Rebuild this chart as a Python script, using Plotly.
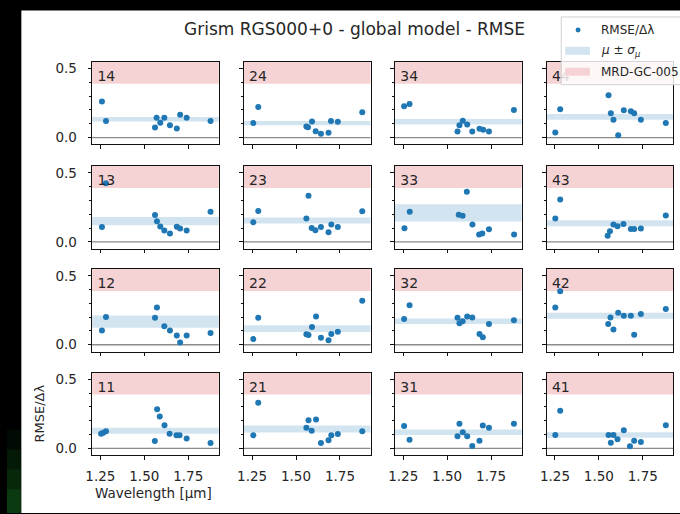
import plotly.graph_objects as go

W, H = 680, 514

# ---------------- data ----------------
panel_ids = ["14", "24", "34", "44",
             "13", "23", "33", "43",
             "12", "22", "32", "42",
             "11", "21", "31", "41"]

wl_14 = [1.259, 1.282, 1.561, 1.570, 1.591, 1.614, 1.646, 1.685, 1.704, 1.741, 1.877]
rmse_14 = [0.261, 0.120, 0.073, 0.144, 0.107, 0.144, 0.090, 0.066, 0.166, 0.144, 0.120]
wl_24 = [1.257, 1.285, 1.559, 1.568, 1.591, 1.612, 1.642, 1.685, 1.699, 1.738, 1.877]
rmse_24 = [0.105, 0.222, 0.080, 0.075, 0.116, 0.046, 0.028, 0.035, 0.120, 0.115, 0.183]
wl_34 = [1.255, 1.286, 1.559, 1.570, 1.589, 1.614, 1.643, 1.684, 1.705, 1.738, 1.880]
rmse_34 = [0.228, 0.243, 0.044, 0.090, 0.122, 0.094, 0.044, 0.063, 0.057, 0.044, 0.200]
wl_44 = [1.252, 1.280, 1.555, 1.568, 1.583, 1.610, 1.642, 1.682, 1.701, 1.739, 1.881]
rmse_44 = [0.036, 0.205, 0.307, 0.176, 0.130, 0.016, 0.199, 0.190, 0.176, 0.129, 0.105]

wl_13 = [1.259, 1.282, 1.561, 1.572, 1.591, 1.614, 1.646, 1.685, 1.704, 1.741, 1.877]
rmse_13 = [0.108, 0.425, 0.195, 0.150, 0.112, 0.083, 0.061, 0.110, 0.097, 0.083, 0.219]
wl_23 = [1.257, 1.285, 1.559, 1.571, 1.589, 1.610, 1.642, 1.685, 1.701, 1.738, 1.877]
rmse_23 = [0.142, 0.223, 0.170, 0.334, 0.101, 0.085, 0.107, 0.070, 0.125, 0.108, 0.222]
wl_33 = [1.257, 1.287, 1.566, 1.588, 1.612, 1.644, 1.682, 1.700, 1.738, 1.881]
rmse_33 = [0.099, 0.218, 0.197, 0.189, 0.363, 0.125, 0.053, 0.060, 0.092, 0.053]
wl_43 = [1.252, 1.280, 1.550, 1.563, 1.583, 1.606, 1.640, 1.682, 1.701, 1.739, 1.881]
rmse_43 = [0.170, 0.307, 0.044, 0.077, 0.125, 0.113, 0.130, 0.093, 0.093, 0.096, 0.191]

wl_12 = [1.259, 1.282, 1.561, 1.572, 1.614, 1.646, 1.685, 1.704, 1.741, 1.877]
rmse_12 = [0.103, 0.202, 0.195, 0.270, 0.135, 0.103, 0.067, 0.017, 0.067, 0.086]
wl_22 = [1.257, 1.285, 1.559, 1.571, 1.591, 1.614, 1.642, 1.685, 1.701, 1.738, 1.877]
rmse_22 = [0.041, 0.196, 0.077, 0.070, 0.128, 0.205, 0.051, 0.033, 0.078, 0.095, 0.320]
wl_32 = [1.255, 1.286, 1.559, 1.570, 1.588, 1.614, 1.643, 1.684, 1.703, 1.738, 1.880]
rmse_32 = [0.186, 0.287, 0.196, 0.156, 0.170, 0.205, 0.197, 0.078, 0.055, 0.151, 0.178]
wl_42 = [1.252, 1.280, 1.553, 1.566, 1.583, 1.610, 1.642, 1.682, 1.701, 1.739, 1.881]
rmse_42 = [0.271, 0.389, 0.150, 0.197, 0.110, 0.233, 0.211, 0.211, 0.073, 0.223, 0.260]

wl_11 = [1.254, 1.266, 1.282, 1.560, 1.573, 1.588, 1.615, 1.644, 1.683, 1.701, 1.741, 1.877]
rmse_11 = [0.106, 0.114, 0.124, 0.054, 0.284, 0.231, 0.168, 0.106, 0.095, 0.095, 0.072, 0.039]
wl_21 = [1.257, 1.285, 1.559, 1.571, 1.589, 1.614, 1.642, 1.685, 1.701, 1.738, 1.877]
rmse_21 = [0.095, 0.330, 0.149, 0.203, 0.128, 0.210, 0.039, 0.058, 0.095, 0.104, 0.124]
wl_31 = [1.255, 1.286, 1.559, 1.570, 1.589, 1.614, 1.643, 1.684, 1.703, 1.738, 1.880]
rmse_31 = [0.162, 0.063, 0.088, 0.178, 0.117, 0.088, 0.017, 0.055, 0.166, 0.150, 0.178]
wl_41 = [1.252, 1.280, 1.555, 1.568, 1.583, 1.606, 1.642, 1.677, 1.701, 1.739, 1.881]
rmse_41 = [0.096, 0.272, 0.096, 0.040, 0.096, 0.066, 0.131, 0.016, 0.055, 0.046, 0.168]

# mean and its uncertainty per panel (same order as panel_ids)
mu_vals = [0.133, 0.105, 0.115, 0.150,
           0.150, 0.155, 0.210, 0.135,
           0.168, 0.117, 0.170, 0.210,
           0.127, 0.140, 0.117, 0.097]
sigma_mu_vals = [0.017, 0.015, 0.020, 0.021,
                 0.030, 0.022, 0.063, 0.022,
                 0.044, 0.025, 0.020, 0.022,
                 0.022, 0.025, 0.020, 0.020]

req_low, req_high = 0.39, 0.55   # MRD-GC-005 band

wavelengths = [wl_14, wl_24, wl_34, wl_44, wl_13, wl_23, wl_33, wl_43,
               wl_12, wl_22, wl_32, wl_42, wl_11, wl_21, wl_31, wl_41]
rmses = [rmse_14, rmse_24, rmse_34, rmse_44, rmse_13, rmse_23, rmse_33, rmse_43,
         rmse_12, rmse_22, rmse_32, rmse_42, rmse_11, rmse_21, rmse_31, rmse_41]

x_ticks = [1.25, 1.50, 1.75]
y_ticks = [0.0, 0.5]

# ---------------- layout geometry (pixels) ----------------
col_left = [86, 239.3, 392, 545.3]
panel_w = 128
row_top = [61, 165.7, 269, 373]
panel_h = 83
x_range = [1.203, 1.924]
y_range = [-0.05, 0.55]

BLUE = "#1f77b4"
TXT = "#262626"
FONT = "DejaVu Sans"

fig = go.Figure()
layout = dict(
    width=W, height=H, autosize=False,
    margin=dict(l=0, r=0, t=0, b=0),
    paper_bgcolor="black", plot_bgcolor="white",
    showlegend=False,
    font=dict(family=FONT, color=TXT, size=12),
)
shapes = []
annotations = []

# white figure area and green glow at the bottom-left
shapes.append(dict(type="rect", xref="paper", yref="paper", x0=14.5 / W, x1=1,
                   y0=0, y1=1 - 9.5 / H, fillcolor="white", line_width=0, layer="below"))
for (ya, yb, col) in [(430, 450, "#020b03"), (450, 470, "#051907"), (470, 490, "#08280b"),
                      (490, 514, "#0c3a10")]:
    shapes.append(dict(type="rect", xref="paper", yref="paper", x0=0, x1=14 / W,
                       y0=1 - yb / H, y1=1 - ya / H, fillcolor=col, line_width=0, layer="below"))

for i, pid in enumerate(panel_ids):
    r, c = divmod(i, 4)
    k = i + 1
    xa = "x" if k == 1 else f"x{k}"
    ya = "y" if k == 1 else f"y{k}"
    xl = "xaxis" if k == 1 else f"xaxis{k}"
    yl = "yaxis" if k == 1 else f"yaxis{k}"
    x0 = col_left[c] / W
    x1 = (col_left[c] + panel_w) / W
    y1 = 1 - row_top[r] / H
    y0 = 1 - (row_top[r] + panel_h) / H
    layout[xl] = dict(
        domain=[x0, x1], anchor=ya, range=x_range, showgrid=False, zeroline=False,
        showline=True, mirror=True, linecolor="#111", linewidth=1,
        ticks="outside", ticklen=3.5, tickwidth=1, tickcolor="#111",
        tickmode="array", tickvals=x_ticks, ticktext=[f"{v:.2f}" for v in x_ticks],
        showticklabels=(r == 3), tickfont=dict(size=13.5, family=FONT, color=TXT),
        ticklabelstandoff=5,
    )
    layout[yl] = dict(
        domain=[y0, y1], anchor=xa, range=y_range, showgrid=False, zeroline=False,
        showline=True, mirror=True, linecolor="#111", linewidth=1,
        ticks="outside", ticklen=3.5, tickwidth=1, tickcolor="#111",
        tickmode="array", tickvals=y_ticks, ticktext=[f"{v:.1f}" for v in y_ticks],
        showticklabels=(c == 0), tickfont=dict(size=13.5, family=FONT, color=TXT),
        ticklabelstandoff=8,
        minor=dict(tickmode="linear", tick0=0, dtick=0.1, ticks="outside",
                   ticklen=2, tickwidth=0.8, tickcolor="#111"),
    )
    # requirement band
    shapes.append(dict(type="rect", xref=f"{xa} domain", yref=ya, x0=0, x1=1,
                       y0=req_low, y1=req_high, fillcolor="#f5d3d4", line_width=0, layer="below"))
    # mu +- sigma_mu band
    shapes.append(dict(type="rect", xref=f"{xa} domain", yref=ya, x0=0, x1=1,
                       y0=mu_vals[i] - sigma_mu_vals[i], y1=mu_vals[i] + sigma_mu_vals[i],
                       fillcolor="#d2e4f0", line_width=0, layer="below"))
    # zero line
    shapes.append(dict(type="line", xref=f"{xa} domain", yref=ya, x0=0, x1=1,
                       y0=0, y1=0, line=dict(color="#8c8c8c", width=1.3), layer="below"))
    fig.add_trace(go.Scatter(x=wavelengths[i], y=rmses[i], mode="markers",
                             marker=dict(color=BLUE, size=6, line_width=0),
                             xaxis=xa, yaxis=ya, hoverinfo="skip"))
    fig.add_trace(go.Scatter(x=[1.233], y=[0.435], mode="text", text=[pid],
                             textposition="middle right",
                             textfont=dict(size=14, family=FONT, color=TXT),
                             xaxis=xa, yaxis=ya, hoverinfo="skip"))

# title and axis labels
annotations.append(dict(text="Grism RGS000+0 - global model - RMSE", x=351 / W, y=1 - 28 / H,
                        xref="paper", yref="paper", xanchor="center", yanchor="middle",
                        showarrow=False, font=dict(size=17, family=FONT, color=TXT)))
annotations.append(dict(text="RMSE/Δλ", x=33 / W, y=1 - 414.5 / H, textangle=-90,
                        xref="paper", yref="paper", xanchor="center", yanchor="middle",
                        showarrow=False, font=dict(size=13, family=FONT, color=TXT)))
annotations.append(dict(text="Wavelength [µm]", x=148 / W, y=1 - 494 / H,
                        xref="paper", yref="paper", xanchor="center", yanchor="middle",
                        showarrow=False, font=dict(size=13.5, family=FONT, color=TXT)))

# legend (drawn by hand, semi-transparent box on top of the last panel)
shapes.append(dict(type="rect", xref="paper", yref="paper", x0=560 / W, x1=684 / W,
                   y0=1 - 84 / H, y1=1 - 16 / H, fillcolor="rgba(255,255,255,0.82)",
                   line=dict(color="#d0d0d0", width=1), layer="above"))
shapes.append(dict(type="circle", xref="paper", yref="paper", x0=574.5 / W, x1=579.5 / W,
                   y0=1 - 31.5 / H, y1=1 - 26.5 / H, fillcolor=BLUE, line_width=0, layer="above"))
shapes.append(dict(type="rect", xref="paper", yref="paper", x0=564 / W, x1=589 / W,
                   y0=1 - 54 / H, y1=1 - 46 / H, fillcolor="#d2e4f0", line_width=0, layer="above"))
shapes.append(dict(type="rect", xref="paper", yref="paper", x0=564 / W, x1=589 / W,
                   y0=1 - 75 / H, y1=1 - 67 / H, fillcolor="#f5d3d4", line_width=0, layer="above"))
for txt, yy in [("RMSE/Δλ", 29), ("<i>μ</i> ± <i>σ</i><sub><i>μ</i></sub>", 50), ("MRD-GC-005", 71)]:
    annotations.append(dict(text=txt, x=598 / W, y=1 - yy / H, xref="paper", yref="paper",
                            xanchor="left", yanchor="middle", showarrow=False,
                            font=dict(size=12, family=FONT, color=TXT)))

layout["shapes"] = shapes
layout["annotations"] = annotations
fig.update_layout(**layout)
fig.write_html(
    "out.html",
    config={"displayModeBar": False},
    post_script="document.body.style.margin='0';document.body.style.padding='0';"
                "document.body.style.overflow='hidden';"
                "document.documentElement.style.overflow='hidden';",
)
